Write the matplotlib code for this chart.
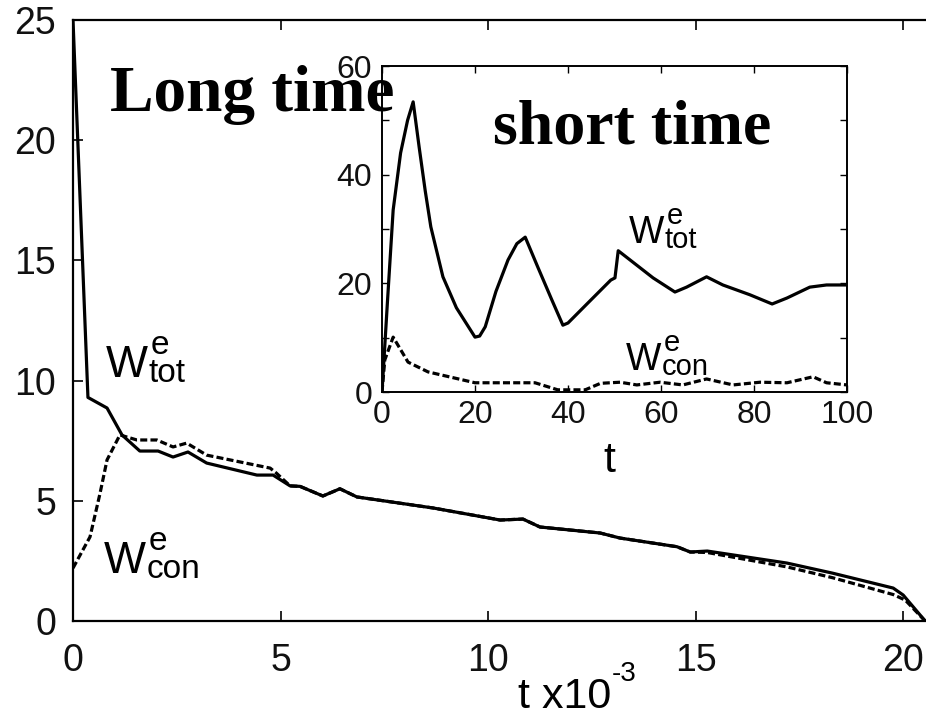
import matplotlib
matplotlib.use("Agg")
import matplotlib.pyplot as plt
from matplotlib.ticker import MultipleLocator, FuncFormatter

# long time (t in units of 1e3)
long_tot_t = [0, 0.36, 0.82, 1.18, 1.61, 2.05, 2.41, 2.77, 3.22, 4.43, 4.82, 5.23, 5.47,
              6.02, 6.43, 6.84, 8.68, 10.29, 10.84, 11.25, 12.7, 13.18, 14.55, 14.87,
              15.28, 17.2, 18.3, 19.76, 20.0, 20.53]
long_tot_w = [25, 9.3, 8.86, 7.74, 7.07, 7.07, 6.82, 7.03, 6.57, 6.07, 6.07, 5.62, 5.6,
              5.2, 5.5, 5.16, 4.7, 4.2, 4.24, 3.91, 3.66, 3.45, 3.09, 2.87,
              2.91, 2.41, 1.99, 1.37, 1.08, 0]
long_con_t = [0, 0.41, 0.65, 0.82, 1.13, 1.54, 2.02, 2.41, 2.74, 3.22, 4.75, 4.9, 5.23,
              5.47, 6.02, 6.43, 6.84, 8.68, 10.29, 10.84, 11.25, 12.7, 13.18, 14.55,
              14.87, 15.28, 17.2, 18.3, 19.76, 20.05, 20.53]
long_con_w = [2.2, 3.5, 5.3, 6.7, 7.74, 7.53, 7.53, 7.24, 7.4, 6.9, 6.36, 6.15, 5.62,
              5.6, 5.2, 5.5, 5.16, 4.7, 4.2, 4.24, 3.91, 3.66, 3.45, 3.09,
              2.87, 2.85, 2.25, 1.8, 1.1, 0.87, 0]

# short time
short_tot_t = [0, 1.2, 2.4, 4, 5.5, 6.7, 8, 9.3, 10.5, 13.1, 16, 20, 21, 22.2, 24.5, 27.1,
               29, 30.8, 33.5, 36.5, 38.9, 40, 44.3, 49.2, 50.1, 50.8, 58.3, 63, 65.5,
               69.8, 73.3, 79.1, 83.9, 87.1, 92, 95.6, 100]
short_tot_w = [0, 17, 33.5, 44, 50, 53.4, 45, 37, 30.4, 21.2, 15.5, 10.1, 10.3, 12, 18.5, 24.3,
               27.3, 28.5, 23, 17, 12.3, 12.7, 16.4, 20.6, 21, 26, 21, 18.4, 19.3,
               21.2, 19.7, 17.9, 16.2, 17.3, 19.3, 19.7, 19.7]
short_con_t = [0, 0.6, 2.4, 5.6, 9.9, 20, 32.9, 37.8, 43.7, 47, 51.2, 54.8, 59.8, 64.7,
               69.8, 75.5, 81.3, 87.1, 92.7, 95.6, 100]
short_con_w = [0, 5.9, 10.1, 5.5, 3.7, 1.7, 1.7, 0.4, 0.4, 1.6, 1.8, 1.3, 1.8, 1.3,
               2.4, 1.3, 1.8, 1.7, 2.8, 1.7, 1.3]

W, H = 926, 711
sans = 'Liberation Sans'
serif = 'Liberation Serif'
dash = (0, (2.2, 1.0))

fig = plt.figure(figsize=(W / 100, H / 100), dpi=100)

def px(x, y):
    return x / W, 1 - y / H

# main axes
ax = fig.add_axes([73 / W, 1 - 621 / H, (W - 73) / W, (621 - 20) / H])
ax.plot(long_tot_t, long_tot_w, color='black', lw=2.3)
ax.plot(long_con_t, long_con_w, color='black', lw=2.3, linestyle=dash)
ax.set_xlim(0, 20.55)
ax.set_ylim(0, 25)
ax.set_xticks([0, 5, 10, 15, 20])
ax.set_yticks([0, 5, 10, 15, 20, 25])
ax.tick_params(direction='in', top=True, right=False, length=7, width=1.2,
               labelsize=27, labelcolor='#111111')
ax.tick_params(axis='y', pad=12)
ax.tick_params(axis='x', pad=16)
for lab in ax.get_xticklabels() + ax.get_yticklabels():
    lab.set_family(sans)
ax.spines['right'].set_visible(False)
for s in ['left', 'bottom', 'top']:
    ax.spines[s].set_linewidth(1.6)

# inset axes
ins = fig.add_axes([382 / W, 1 - 392 / H, (847 - 382) / W, (392 - 66) / H])
ins.plot(short_tot_t, short_tot_w, color='black', lw=2.3)
ins.plot(short_con_t, short_con_w, color='black', lw=2.3, linestyle=dash)
ins.set_xlim(0, 100)
ins.set_ylim(0, 60)
ins.xaxis.set_major_locator(MultipleLocator(20))
ins.yaxis.set_major_locator(MultipleLocator(10))
ins.yaxis.set_major_formatter(FuncFormatter(lambda v, p: '%d' % v if int(v) % 20 == 0 else ''))
ins.tick_params(direction='in', top=True, right=True, length=5, width=1.0,
                labelsize=23, labelcolor='#111111')
ins.tick_params(axis='y', pad=7)
ins.tick_params(axis='x', pad=6)
for lab in ins.get_xticklabels() + ins.get_yticklabels():
    lab.set_family(sans)
for s in ins.spines.values():
    s.set_linewidth(1.4)
fig.text(*px(603, 472), 't', family=sans, fontsize=31, ha='left', va='baseline')

# x label of main axes
fig.text(*px(518, 708), 't x10', family=sans, fontsize=31, ha='left', va='baseline')
fig.text(*px(612, 681), '-3', family=sans, fontsize=20, ha='left', va='baseline')

# titles
fig.text(*px(110, 111), 'Long time', family=serif, weight='bold', fontsize=47,
         ha='left', va='baseline', zorder=10)
fig.text(*px(493, 143), 'short time', family=serif, weight='bold', fontsize=46,
         ha='left', va='baseline', zorder=10)

def wlabel(x, y, sub, big, small):
    fig.text(*px(x, y), 'W', family=sans, fontsize=big, ha='left', va='baseline')
    xs = x + big * 1.32
    fig.text(*px(xs + 2, y - big * 0.72), 'e', family=sans, fontsize=small,
             ha='left', va='baseline')
    fig.text(*px(xs, y + big * 0.17), sub, family=sans, fontsize=small,
             ha='left', va='baseline')

wlabel(106, 377, 'tot', 32, 24)
wlabel(104, 573, 'con', 32, 24)
wlabel(629, 243, 'tot', 27, 21)
wlabel(626, 370, 'con', 27, 21)

fig.savefig('out.png', dpi=100)
